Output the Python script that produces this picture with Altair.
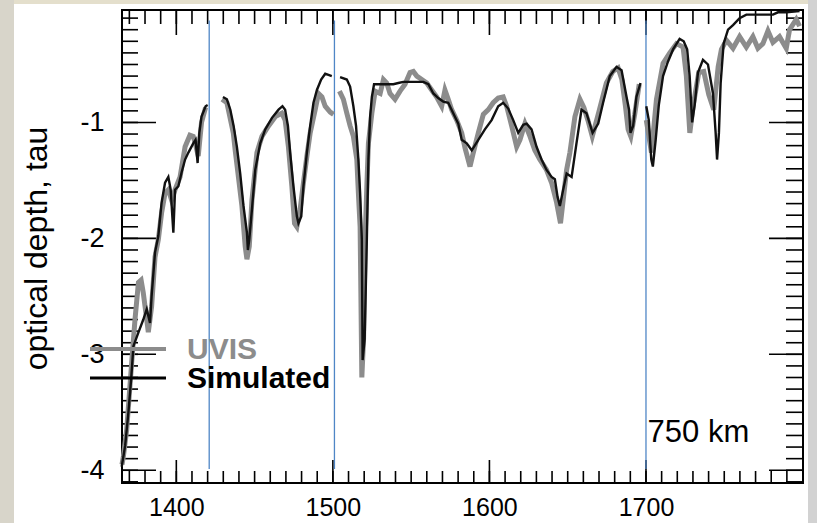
import altair as alt
import pandas as pd

# ---------------- data ----------------
# Simulated (black) - four segments, broken at the blue markers
sim1_x = [1365.1, 1367.3, 1369.4, 1371.1, 1372.6, 1375.8, 1378.9, 1381.1, 1383.2, 1384.2, 1386.4, 1388.5, 1390.6,
          1392.8, 1394.9, 1396.4, 1398.1, 1399.2, 1401.3, 1403.4, 1405.6, 1407.7, 1410.8, 1412.3, 1413.6, 1414.7,
          1416.1, 1418.7, 1420.0]
sim1_y = [-3.97, -3.79, -3.50, -3.22, -2.93, -2.81, -2.70, -2.61, -2.73, -2.50, -2.12, -1.98, -1.69,
          -1.52, -1.47, -1.58, -1.95, -1.58, -1.55, -1.43, -1.32, -1.26, -1.18, -1.15, -1.35, -1.09,
          -0.95, -0.86, -0.85]
sim2_x = [1429.8, 1432.3, 1434.5, 1436.6, 1438.7, 1440.8, 1442.9, 1445.1, 1445.7, 1446.6, 1448.3, 1450.4, 1453.6,
          1456.8, 1461.1, 1465.3, 1467.8, 1469.5, 1471.3, 1472.7, 1474.8, 1477.0, 1478.0, 1479.8, 1481.2, 1483.4,
          1485.5, 1487.6, 1489.8, 1492.5, 1495.1, 1497.2, 1499.3]
sim2_y = [-0.78, -0.80, -0.89, -1.03, -1.21, -1.44, -1.72, -1.95, -2.10, -2.01, -1.75, -1.41, -1.18,
          -1.06, -0.96, -0.89, -0.86, -0.89, -1.03, -1.26, -1.55, -1.81, -1.87, -1.81, -1.55, -1.26,
          -1.03, -0.83, -0.72, -0.63, -0.58, -0.59, -0.60]
sim3_x = [1504.6, 1508.9, 1511.0, 1513.1, 1514.8, 1516.3, 1517.4, 1518.5, 1519.0, 1520.3, 1521.7, 1522.7, 1523.8,
          1524.9, 1526.3, 1529.1, 1532.3, 1535.5, 1538.6, 1541.8, 1545.0, 1549.3, 1553.6, 1557.8, 1561.0, 1564.2,
          1567.3, 1570.5, 1573.7, 1576.9, 1580.1, 1582.3, 1585.5, 1588.7, 1592.9, 1597.1, 1601.4, 1605.6, 1608.8,
          1612.0, 1615.2, 1618.4, 1621.6, 1623.8, 1626.9, 1630.1, 1633.3, 1636.5, 1639.7, 1641.8, 1643.5, 1645.0,
          1647.1, 1649.3, 1652.5, 1655.6, 1658.8, 1662.0, 1665.9, 1669.5, 1672.6, 1676.9, 1681.2, 1684.4, 1687.6,
          1689.2, 1690.1, 1691.8, 1693.9, 1696.5]
sim3_y = [-0.61, -0.63, -0.69, -0.86, -1.03, -1.32, -1.61, -2.01, -3.05, -2.87, -2.01, -1.32, -0.95,
          -0.78, -0.67, -0.67, -0.67, -0.67, -0.67, -0.66, -0.65, -0.65, -0.65, -0.65, -0.67, -0.75,
          -0.79, -0.82, -0.83, -0.92, -1.01, -1.15, -1.18, -1.24, -1.15, -1.06, -0.98, -0.86, -0.83,
          -0.88, -0.98, -1.09, -1.02, -1.01, -1.06, -1.21, -1.32, -1.41, -1.47, -1.49, -1.64, -1.72,
          -1.58, -1.44, -1.47, -1.18, -0.89, -0.92, -1.09, -1.01, -0.83, -0.60, -0.52, -0.55, -0.78,
          -0.89, -1.09, -1.03, -0.78, -0.66]
sim4_x = [1700.2, 1701.8, 1703.4, 1704.4, 1706.2, 1708.2, 1710.9, 1713.9, 1717.3, 1721.5, 1724.1, 1726.3, 1727.9,
          1729.5, 1731.1, 1733.2, 1736.4, 1739.6, 1742.8, 1744.5, 1745.4, 1746.6, 1747.7, 1749.6, 1752.4, 1755.6,
          1759.8, 1764.1, 1770.5, 1776.9, 1781.1, 1784.3, 1789.6, 1798.1]
sim4_y = [-0.86, -0.98, -1.32, -1.38, -1.15, -0.85, -0.60, -0.48, -0.37, -0.28, -0.30, -0.37, -0.60,
          -1.00, -0.85, -0.57, -0.46, -0.50, -0.75, -1.09, -1.32, -1.09, -0.66, -0.32, -0.20, -0.16,
          -0.10, -0.07, -0.07, -0.07, -0.07, -0.05, -0.05, -0.04]

# UVIS (grey) - four segments
uv1_x = [1365.3, 1366.2, 1368.3, 1371.5, 1373.6, 1375.8, 1377.5, 1378.9, 1381.1, 1382.1, 1384.2, 1386.4, 1388.5,
         1390.6, 1392.8, 1394.9, 1397.0, 1399.2, 1402.4, 1405.6, 1408.7, 1410.8, 1412.3, 1414.0, 1416.1, 1418.7]
uv1_y = [-3.95, -3.88, -3.65, -3.07, -2.70, -2.38, -2.36, -2.47, -2.70, -2.81, -2.59, -2.16, -2.01,
         -1.78, -1.61, -1.58, -1.67, -1.58, -1.47, -1.21, -1.11, -1.12, -1.19, -1.29, -1.00, -0.87]
uv2_x = [1429.2, 1432.3, 1436.4, 1437.6, 1441.9, 1444.0, 1445.1, 1446.6, 1448.3, 1451.5, 1454.7, 1458.9, 1463.2,
         1467.4, 1469.5, 1471.6, 1473.8, 1475.5, 1477.0, 1479.1, 1481.2, 1483.4, 1485.5, 1488.7, 1490.8, 1493.0,
         1495.1, 1498.3, 1500.4]
uv2_y = [-0.80, -0.83, -1.09, -1.24, -1.72, -2.07, -2.18, -2.07, -1.67, -1.26, -1.12, -1.03, -0.95,
         -0.92, -0.98, -1.21, -1.55, -1.87, -1.90, -1.75, -1.52, -1.29, -1.09, -0.89, -0.75, -0.78,
         -0.86, -0.91, -0.93]
uv3_x = [1504.2, 1506.7, 1508.9, 1511.0, 1513.1, 1515.3, 1516.3, 1517.4, 1518.5, 1519.6, 1520.6, 1521.7, 1522.7,
         1524.9, 1527.0, 1530.2, 1532.3, 1534.4, 1536.5, 1539.7, 1542.9, 1546.1, 1549.3, 1551.4, 1553.6, 1556.8,
         1560.0, 1563.1, 1566.3, 1569.5, 1571.6, 1573.7, 1575.9, 1579.1, 1582.3, 1584.4, 1587.6, 1589.7, 1592.9,
         1596.1, 1599.3, 1602.4, 1605.6, 1608.8, 1611.0, 1614.2, 1617.4, 1619.5, 1622.7, 1625.9, 1629.0, 1632.2,
         1636.5, 1639.7, 1642.9, 1645.4, 1647.1, 1649.3, 1651.4, 1654.6, 1657.8, 1660.3, 1662.9, 1665.7, 1669.9,
         1674.7, 1678.8, 1682.2, 1684.6, 1686.8, 1688.6, 1690.3, 1692.8, 1695.7]
uv3_y = [-0.73, -0.80, -0.92, -1.03, -1.12, -1.32, -1.61, -1.90, -3.20, -2.87, -2.01, -1.55, -1.18,
         -0.92, -0.73, -0.75, -0.63, -0.66, -0.75, -0.80, -0.73, -0.67, -0.57, -0.56, -0.60, -0.63,
         -0.66, -0.72, -0.78, -0.86, -0.72, -0.80, -0.89, -0.98, -1.09, -1.22, -1.38, -1.26, -1.09,
         -0.93, -0.89, -0.83, -0.79, -0.78, -0.86, -1.03, -1.21, -1.15, -1.01, -1.12, -1.24, -1.32,
         -1.41, -1.52, -1.69, -1.87, -1.67, -1.41, -1.26, -0.95, -0.80, -0.87, -0.98, -1.12, -0.91,
         -0.66, -0.56, -0.53, -0.63, -0.85, -1.06, -1.12, -0.93, -0.67]
uv4_x = [1700.2, 1703.5, 1706.7, 1710.9, 1715.2, 1719.5, 1723.7, 1725.8, 1728.0, 1730.1, 1733.7, 1736.9, 1740.1,
         1743.3, 1746.1, 1748.2, 1751.4, 1755.6, 1759.8, 1764.1, 1768.3, 1771.5, 1774.7, 1777.9, 1781.1, 1785.3,
         1789.6, 1791.7, 1796.0, 1798.1]
uv4_y = [-0.98, -1.26, -0.80, -0.49, -0.40, -0.32, -0.35, -0.60, -1.09, -0.86, -0.57, -0.56, -0.76,
         -0.89, -0.52, -0.37, -0.29, -0.36, -0.26, -0.35, -0.26, -0.36, -0.32, -0.21, -0.31, -0.26,
         -0.36, -0.20, -0.11, -0.17]

marker_x = [1421, 1501, 1700]           # blue vertical markers
marker_y_low, marker_y_high = -3.99, -0.12

x_major = [1400, 1500, 1600, 1700]
x_minor = list(range(1370, 1800, 10))
y_major = [-4, -3, -2, -1]
y_minor = [round(-4.1 + 0.1 * k, 1) for k in range(41)]

annot_x, annot_y, annot_text = 1701, -3.76, "750 km"
legend_labels = ["UVIS", "Simulated"]

# ---------------- layout ----------------
W, H = 681, 473
X_DOMAIN = [1365.3, 1800.3]
Y_DOMAIN = [-4.11, -0.03]
FONT = "Liberation Sans"
GREY = "#8c8c8c"
BLUE = "#4f86c6"


def segments(xs_list, ys_list, name):
    rows = []
    for s, (xs, ys) in enumerate(zip(xs_list, ys_list)):
        for i, (a, b) in enumerate(zip(xs, ys)):
            rows.append({"x": a, "y": b, "seg": f"{name}{s}", "i": i})
    return pd.DataFrame(rows)


sim_df = segments([sim1_x, sim2_x, sim3_x, sim4_x], [sim1_y, sim2_y, sim3_y, sim4_y], "sim")
uv_df = segments([uv1_x, uv2_x, uv3_x, uv4_x], [uv1_y, uv2_y, uv3_y, uv4_y], "uv")

x_enc = alt.X("x:Q", scale=alt.Scale(domain=X_DOMAIN, nice=False, zero=False),
              axis=alt.Axis(values=x_major, title=None, ticks=False, tickSize=0, domain=False, grid=False,
                            format="d", labelFontSize=25, labelFont=FONT, labelColor="black", labelPadding=12,
                            labelFlush=False))
y_enc = alt.Y("y:Q", scale=alt.Scale(domain=Y_DOMAIN, nice=False, zero=False),
              axis=alt.Axis(values=y_major, title="optical depth, tau", ticks=False, tickSize=0, domain=False,
                            grid=False, labelFontSize=27, labelFont=FONT, labelColor="black", labelPadding=18,
                            labelExpr="'' + datum.value", labelFlush=False,
                            titleFontSize=32, titleFont=FONT, titleFontWeight="normal", titleColor="black",
                            titleAngle=270, titleX=-86, titleY=238, titleAlign="center",
                            titleBaseline="middle"))

one = pd.DataFrame({"k": [0]})

# page edge strips of the reference (beige left / top, grey right)
edge_left = alt.Chart(one).mark_rect(color="#d8d5ca").encode(
    x=alt.value(-122), x2=alt.value(-108), y=alt.value(-10), y2=alt.value(513))
edge_top = alt.Chart(one).mark_rect(color="#e4dfcc").encode(
    x=alt.value(-108), x2=alt.value(686), y=alt.value(-10), y2=alt.value(-6))
edge_right = alt.Chart(one).mark_rect(color="#d2d2d2").encode(
    x=alt.value(686), x2=alt.value(695), y=alt.value(-10), y2=alt.value(513))

xmin_df = pd.DataFrame({"x": x_minor})
xmaj_df = pd.DataFrame({"x": x_major})
ymin_df = pd.DataFrame({"y": y_minor})
ymaj_df = pd.DataFrame({"y": y_major})

tick_style = dict(color="black", strokeWidth=1.6)
ticks = [
    alt.Chart(xmin_df).mark_rule(**tick_style).encode(x=x_enc, y=alt.value(H), y2=alt.value(H - 12)),
    alt.Chart(xmaj_df).mark_rule(**tick_style).encode(x=x_enc, y=alt.value(H), y2=alt.value(H - 23)),
    alt.Chart(xmin_df).mark_rule(**tick_style).encode(x=x_enc, y=alt.value(0), y2=alt.value(14)),
    alt.Chart(xmaj_df).mark_rule(**tick_style).encode(x=x_enc, y=alt.value(0), y2=alt.value(25)),
    alt.Chart(ymin_df).mark_rule(**tick_style).encode(y=y_enc, x=alt.value(0), x2=alt.value(16)),
    alt.Chart(ymaj_df).mark_rule(**tick_style).encode(y=y_enc, x=alt.value(0), x2=alt.value(34)),
    alt.Chart(ymin_df).mark_rule(**tick_style).encode(y=y_enc, x=alt.value(W), x2=alt.value(W - 17)),
    alt.Chart(ymaj_df).mark_rule(**tick_style).encode(y=y_enc, x=alt.value(W), x2=alt.value(W - 34)),
]

markers = alt.Chart(pd.DataFrame({"x": marker_x, "y": [marker_y_low] * 3, "y2": [marker_y_high] * 3})).mark_rule(
    color=BLUE, strokeWidth=1.3).encode(x=x_enc, y=y_enc, y2="y2:Q")

uv_line = alt.Chart(uv_df).mark_line(color=GREY, strokeWidth=5, strokeJoin="miter").encode(
    x=x_enc, y=y_enc, detail="seg:N", order="i:Q")
sim_line = alt.Chart(sim_df).mark_line(color="#111111", strokeWidth=2.4).encode(
    x=x_enc, y=y_enc, detail="seg:N", order="i:Q")

leg_uv_line = alt.Chart(one).mark_rule(color=GREY, strokeWidth=4).encode(
    x=alt.value(-32), x2=alt.value(44), y=alt.value(339))
leg_sim_line = alt.Chart(one).mark_rule(color="black", strokeWidth=3).encode(
    x=alt.value(-32), x2=alt.value(44), y=alt.value(368))
leg_uv_text = alt.Chart(one).mark_text(align="left", baseline="middle", font=FONT, fontSize=30,
                                       fontWeight="bold", color=GREY).encode(
    x=alt.value(65), y=alt.value(340), text=alt.value(legend_labels[0]))
leg_sim_text = alt.Chart(one).mark_text(align="left", baseline="middle", font=FONT, fontSize=30,
                                        fontWeight="bold", color="black").encode(
    x=alt.value(65), y=alt.value(369), text=alt.value(legend_labels[1]))

annot = alt.Chart(pd.DataFrame({"x": [annot_x], "y": [annot_y], "t": [annot_text]})).mark_text(
    align="left", baseline="alphabetic", font=FONT, fontSize=31, color="black").encode(
    x=x_enc, y=y_enc, text="t:N")

chart = alt.layer(
    edge_left, edge_top, edge_right, *ticks, markers, uv_line, sim_line,
    leg_uv_line, leg_sim_line, leg_uv_text, leg_sim_text, annot
).properties(
    width=W, height=H,
    autosize=alt.AutoSizeParams(type="none"),
    padding={"left": 122, "top": 10, "right": 14, "bottom": 40},
    background="white",
).configure_view(
    stroke="black", strokeWidth=2, fill="white"
)

chart.save("out.html", embed_options={"renderer": "svg", "actions": False})
